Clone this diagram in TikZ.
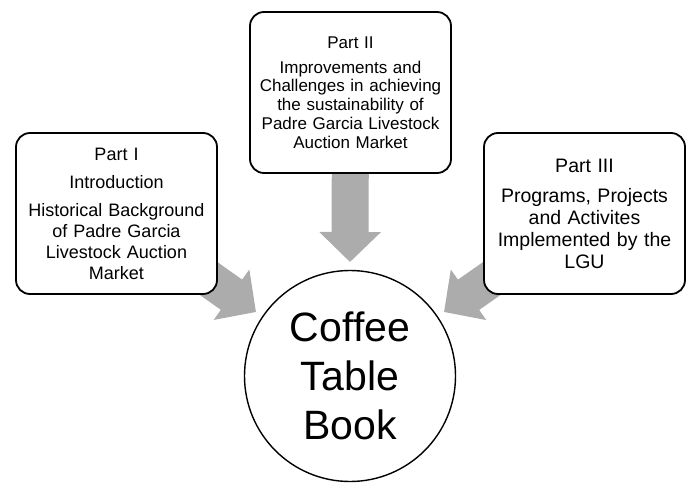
\documentclass[tikz,border=0pt]{standalone}
\usepackage{fontspec}
\setmainfont{Liberation Sans}
\usetikzlibrary{arrows.meta}
\usetikzlibrary{backgrounds}

\begin{document}
\begin{tikzpicture}[x=1pt, y=-1pt,
  part/.style={draw=black, line width=1.8pt, rounded corners=14pt, fill=white,
    minimum width=201pt, minimum height=161pt, text width=195pt, align=center, inner sep=0pt},
  flow/.style={line width=37pt, gray!65, -{Triangle[width=60pt, length=30pt]}}]
\useasboundingbox (0,0) rectangle (688,482);

\node[part, font=\fontsize{18}{21}\selectfont] (part1) at (116.5,213.5)
  {Part I\\[7pt]Introduction\\[7pt]Historical Background\\of Padre Garcia\\Livestock Auction\\Market};
\node[part, font=\fontsize{17}{18.7}\selectfont] (part2) at (350.5,92.5)
  {Part II\\[6pt]Improvements and\\Challenges in achieving\\the sustainability of\\Padre Garcia Livestock\\Auction Market};
\node[part, font=\fontsize{19.5}{22}\selectfont] (part3) at (584.5,213.5)
  {Part III\\[8pt]Programs, Projects\\and Activites\\Implemented by the\\LGU};

\node[draw=black, circle, line width=1.4pt, minimum size=211pt, inner sep=0pt, align=center,
  font=\fontsize{41}{49}\selectfont] (book) at (350,376) {Coffee\\Table\\Book};

\coordinate (tip1) at (256,312);
\coordinate (tip2) at (350,262);
\coordinate (tip3) at (444,312);

% block arrows behind the boxes
\begin{scope}[on background layer]
\draw[flow] (part1.center) -- (tip1);
\draw[flow] (part2.center) -- (tip2);
\draw[flow] (part3.center) -- (tip3);
\end{scope}

\end{tikzpicture}
\end{document}
